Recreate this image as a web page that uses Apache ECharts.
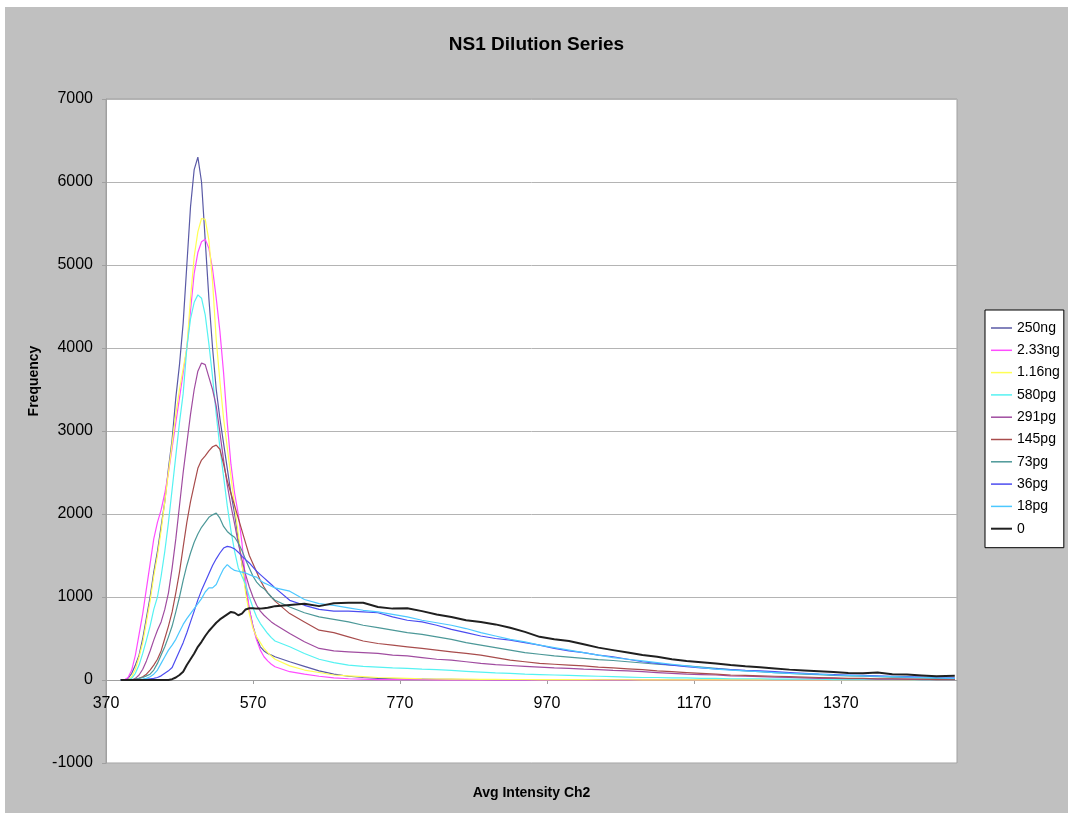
<!DOCTYPE html>
<html>
<head>
<meta charset="utf-8">
<title>NS1 Dilution Series</title>
<script src="https://cdn.jsdelivr.net/npm/echarts@6/dist/echarts.min.js"></script>
<style>
  html, body { margin: 0; padding: 0; background: #fff; }
  #chart { position: absolute; left: 5px; top: 7px; width: 1063px; height: 806px; }
</style>
</head>
<body>
<div id="chart"></div>
<script>
// x positions (Avg Intensity Ch2): fine steps through the peak, coarser in the tail
var xs = [
  390, 395, 400, 405, 410, 415, 420, 425, 430, 435,
  440, 445, 450, 455, 460, 465, 470, 475, 480, 485,
  490, 495, 500, 505, 510, 515, 520, 525, 530, 535,
  540, 545, 550, 555, 560, 565, 570, 575, 580, 585,
  590, 595, 600,
  620, 640, 660, 680, 700, 720, 740, 760, 780, 800,
  820, 840, 860, 880, 900, 920, 940, 960, 980, 1000,
  1020, 1040, 1060, 1080, 1100, 1120, 1140, 1160, 1180, 1200,
  1220, 1240, 1260, 1280, 1300, 1320, 1340, 1360, 1380, 1400,
  1420, 1440, 1460, 1480, 1500, 1525
];

var names = ["250ng", "2.33ng", "1.16ng", "580pg", "291pg", "145pg", "73pg", "36pg", "18pg", "0"];
var colors = ["#5a5aa6", "#ff4cff", "#ffff55", "#55f2f2", "#a04ca0", "#a84c4c", "#4c9898", "#4c4cf0", "#4cc8ff", "#202020"];

var ng250 = [
  0, 0, 20, 80, 180, 300, 500, 750, 1000, 1300,
  1550, 1850, 2150, 2550, 2900, 3400, 3800, 4300, 5000, 5700,
  6150, 6300, 6000, 5300, 4600, 4000, 3500, 3150, 2850, 2550,
  2250, 2000, 1700, 1400, 1100, 850, 650, 500, 400, 350,
  320, 300, 280,
  220, 165, 110, 70, 45, 30, 20, 15, 10, 10,
  8, 8, 6, 6, 5, 5, 4, 4, 3, 3,
  3, 2, 2, 2, 2, 1, 1, 1, 1, 1,
  1, 1, 0, 0, 0, 0, 0, 0, 0, 0,
  0, 0, 0, 0, 0, 0
];
var ng233 = [
  0, 0, 30, 120, 300, 550, 800, 1100, 1400, 1700,
  1900, 2050, 2250, 2500, 2800, 3100, 3400, 3700, 4000, 4450,
  4900, 5150, 5280, 5310, 5200, 4950, 4600, 4200, 3700, 3100,
  2600, 2250, 2000, 1650, 1200, 850, 640, 480, 360, 280,
  230, 190, 160,
  100, 70, 45, 25, 15, 10, 5, 5, 3, 3,
  2, 2, 2, 1, 1, 1, 1, 0, 0, 0,
  0, 0, 0, 0, 0, 0, 0, 0, 0, 0,
  0, 0, 0, 0, 0, 0, 0, 0, 0, 0,
  0, 0, 0, 0, 0, 0
];
var ng116 = [
  0, 0, 0, 40, 130, 280, 450, 700, 950, 1250,
  1500, 1800, 2150, 2500, 2850, 3200, 3500, 3750, 4000, 4600,
  5100, 5400, 5560, 5550, 5300, 4800, 4100, 3600, 3150, 2800,
  2450, 2100, 1750, 1400, 1050, 800, 620, 520, 450, 380,
  330, 290, 250,
  170, 120, 90, 60, 50, 40, 30, 25, 20, 15,
  12, 10, 10, 8, 8, 6, 6, 5, 5, 4,
  4, 3, 3, 3, 2, 2, 2, 2, 1, 1,
  1, 1, 1, 0, 0, 0, 0, 0, 0, 0,
  0, 0, 0, 0, 0, 0
];
var pg580 = [
  0, 0, 0, 20, 80, 180, 320, 480, 650, 850,
  1000, 1250, 1550, 1900, 2300, 2700, 3100, 3450, 4000, 4350,
  4550, 4640, 4600, 4400, 4050, 3650, 3200, 2800, 2450, 2100,
  1800, 1550, 1350, 1250, 1150, 1000, 870, 760, 680, 620,
  560, 510, 470,
  400, 320, 250, 210, 180, 165, 155, 145, 140, 130,
  125, 115, 105, 95, 85, 80, 70, 65, 60, 55,
  50, 45, 40, 35, 30, 30, 25, 25, 20, 20,
  15, 15, 15, 10, 10, 10, 10, 5, 5, 5,
  5, 5, 5, 0, 0, 0
];
var pg291 = [
  0, 0, 0, 0, 20, 60, 130, 230, 350, 480,
  600, 700, 850, 1050, 1350, 1700, 2100, 2500, 2850, 3200,
  3500, 3720, 3820, 3800, 3650, 3500, 3300, 2980, 2650, 2350,
  2100, 1880, 1650, 1450, 1270, 1120, 1000, 900, 830, 780,
  740, 700, 670,
  560, 460, 380, 350, 340, 330, 320, 300, 290, 270,
  250, 240, 220, 200, 185, 175, 165, 155, 145, 140,
  130, 125, 115, 110, 100, 90, 80, 70, 65, 60,
  50, 45, 40, 35, 30, 25, 20, 20, 15, 15,
  10, 10, 10, 5, 5, 5
];
var pg145 = [
  0, 0, 0, 0, 10, 20, 40, 70, 120, 180,
  250, 350, 500, 650, 820, 1050, 1300, 1600, 1900, 2150,
  2350, 2550, 2650, 2700, 2760, 2810, 2830, 2780, 2600, 2400,
  2250, 2100, 1950, 1800, 1650, 1500, 1400, 1300, 1200, 1120,
  1050, 1000, 950,
  800, 700, 600, 570, 520, 470, 440, 420, 400, 380,
  360, 340, 320, 300, 270, 240, 220, 200, 190, 180,
  170, 155, 145, 135, 125, 110, 100, 90, 80, 70,
  60, 55, 50, 45, 40, 35, 30, 25, 20, 20,
  15, 15, 10, 10, 5, 5
];
var pg73 = [
  0, 0, 0, 0, 10, 20, 30, 50, 70, 120,
  200, 300, 400, 520, 650, 820, 1000, 1200, 1380, 1530,
  1660, 1760, 1840, 1900, 1960, 1990, 2010, 1950, 1850, 1790,
  1750, 1720, 1650, 1560, 1450, 1350, 1250, 1180, 1130, 1100,
  1050, 1000, 960,
  880, 810, 760, 730, 700, 660, 630, 600, 570, 550,
  520, 490, 450, 420, 390, 360, 330, 310, 290, 275,
  260, 245, 235, 220, 205, 190, 180, 170, 155, 140,
  125, 110, 100, 90, 80, 70, 65, 55, 50, 45,
  40, 35, 30, 25, 20, 15
];
var pg36 = [
  0, 0, 0, 0, 0, 0, 5, 10, 15, 20,
  30, 50, 80, 110, 150, 250, 350, 450, 570, 700,
  830, 965, 1080, 1180, 1280, 1380, 1460, 1530, 1590, 1610,
  1600, 1580, 1540, 1490, 1450, 1410, 1360, 1310, 1270, 1230,
  1190, 1150, 1110,
  960, 900, 850, 830, 830, 820, 810, 760, 720, 700,
  660, 610, 570, 530, 500, 480, 450, 420, 380, 350,
  330, 300, 280, 250, 220, 200, 180, 160, 145, 135,
  125, 115, 110, 100, 90, 80, 70, 65, 60, 55,
  50, 45, 40, 35, 30, 25
];
var pg18 = [
  0, 0, 0, 0, 0, 5, 10, 20, 40, 70,
  120, 200, 280, 360, 420, 490, 580, 670, 740, 800,
  860, 920, 980, 1060, 1110, 1110, 1150, 1250, 1340, 1390,
  1350, 1320, 1310, 1300, 1290, 1270, 1250, 1240, 1200, 1170,
  1150, 1130, 1110,
  1070, 970, 920, 900, 870, 840, 820, 790, 760, 720,
  690, 660, 620, 570, 530, 490, 460, 420, 390, 360,
  330, 300, 270, 250, 230, 210, 190, 170, 150, 130,
  120, 110, 100, 90, 80, 75, 70, 60, 55, 50,
  45, 40, 35, 30, 25, 20
];
var zero = [
  0, 0, 0, 0, 0, 0, 0, 0, 0, 0,
  0, 0, 0, 0, 10, 30, 60, 100, 180, 250,
  320, 400, 460, 530, 590, 640, 690, 730, 760, 790,
  820, 810, 780, 800, 850, 865, 865, 860, 860, 865,
  870, 880, 890,
  905, 920, 890, 925, 930, 930, 880, 860, 865, 830,
  790, 760, 720, 700, 670, 630, 580, 520, 490, 470,
  430, 390, 360, 330, 300, 280, 250, 230, 215, 200,
  180, 165, 155, 140, 125, 115, 105, 95, 85, 80,
  90, 70, 65, 55, 45, 50
];

var values = [ng250, ng233, ng116, pg580, pg291, pg145, pg73, pg36, pg18, zero];

var chart = echarts.init(document.getElementById("chart"));
var font = "Liberation Sans, Arial, sans-serif";

// legend sample: a short horizontal bar inside a 21x12 box
var thinLine = "path://M0,0 M21,12 M0,5.25 L21,5.25 L21,6.75 L0,6.75 Z";
var thickLine = "path://M0,0 M21,12 M0,5 L21,5 L21,7 L0,7 Z";

var series = names.map(function (name, k) {
  return {
    name: name,
    type: "line",
    symbol: "none",
    lineStyle: { color: colors[k], width: name === "0" ? 2 : 1.2 },
    itemStyle: { color: colors[k] },
    data: xs.map(function (x, i) { return [x, values[k][i]]; })
  };
});

var option = {
  animation: false,
  backgroundColor: "#c0c0c0",
  textStyle: { fontFamily: font },
  title: {
    text: "NS1 Dilution Series",
    left: "center",
    top: 23,
    textStyle: { fontSize: 19, fontWeight: "bold", color: "#000", fontFamily: font }
  },
  legend: {
    orient: "vertical",
    left: 980,
    top: 303,
    backgroundColor: "#fff",
    borderColor: "#000",
    borderWidth: 1,
    padding: [11, 4, 12, 6],
    itemWidth: 21,
    itemHeight: 12,
    itemGap: 8.3,
    icon: thinLine,
    itemStyle: { borderWidth: 0 },
    textStyle: { fontSize: 14, color: "#000", fontFamily: font },
    data: names.map(function (n) {
      return { name: n, icon: n === "0" ? thickLine : thinLine };
    })
  },
  grid: {
    left: 101,
    top: 92,
    right: 111,
    bottom: 50,
    outerBoundsMode: "none",
    containLabel: false,
    show: true,
    backgroundColor: "#fff",
    borderColor: "#a0a0a0",
    borderWidth: 1
  },
  xAxis: {
    type: "value",
    min: 370,
    max: 1528,
    interval: 200,
    name: "Avg Intensity Ch2",
    nameLocation: "middle",
    nameGap: 23,
    nameTextStyle: { fontSize: 14, fontWeight: "bold", color: "#000", fontFamily: font },
    axisLine: { show: true, onZero: true, lineStyle: { color: "#a0a0a0", width: 1 } },
    axisTick: { show: true, inside: false, length: 4, lineStyle: { color: "#a0a0a0" } },
    axisLabel: {
      color: "#000", fontSize: 16, margin: -67, showMaxLabel: false, fontFamily: font,
      formatter: function (v) { return String(v); }
    },
    splitLine: { show: false }
  },
  yAxis: {
    type: "value",
    min: -1000,
    max: 7000,
    interval: 1000,
    name: "Frequency",
    nameLocation: "middle",
    nameGap: 64,
    nameTextStyle: {
      fontSize: 14, fontWeight: "bold", color: "#000", fontFamily: font,
      padding: [0, 0, 0, 100]
    },
    axisLine: { show: true, lineStyle: { color: "#a0a0a0", width: 1 } },
    axisTick: { show: true, inside: false, length: 4, lineStyle: { color: "#a0a0a0" } },
    axisLabel: {
      color: "#000", fontSize: 16, margin: 13, fontFamily: font,
      formatter: function (v) { return String(v); }
    },
    splitLine: { show: true, lineStyle: { color: "#b4b4b4", width: 1 } }
  },
  series: series
};

chart.setOption(option);
</script>
</body>
</html>
